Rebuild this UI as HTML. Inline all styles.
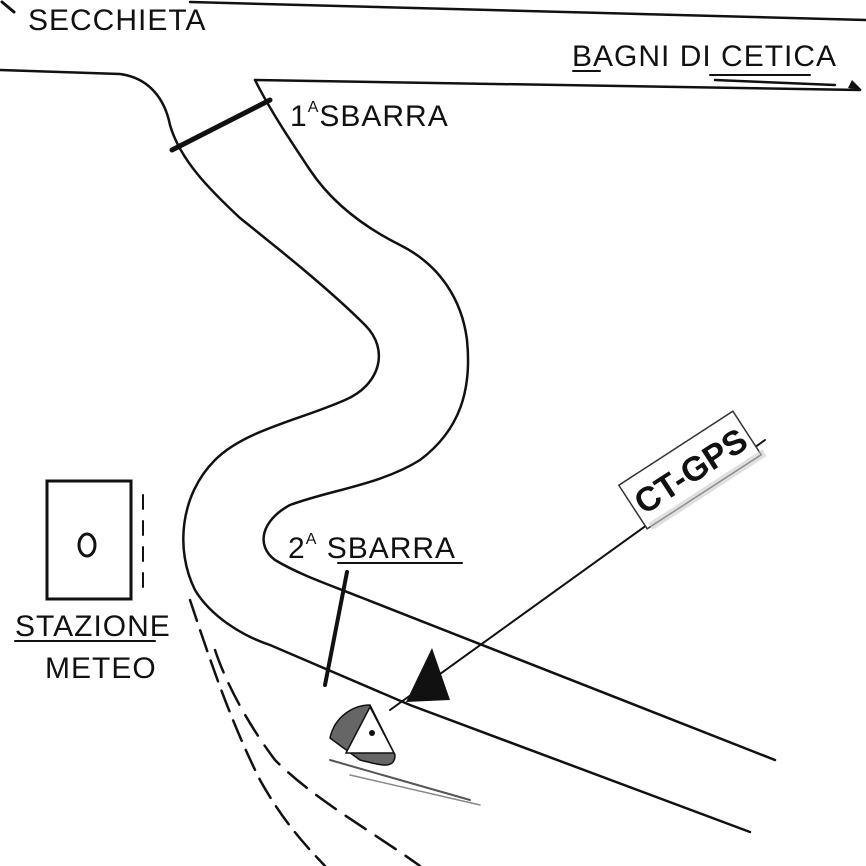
<!DOCTYPE html>
<html><head><meta charset="utf-8"><style>
html,body{margin:0;padding:0;background:#fff;width:866px;height:866px;overflow:hidden}
svg{display:block}
.h{font-family:"Liberation Sans",sans-serif;fill:#111;font-size:30px;letter-spacing:1px}
</style></head><body>
<svg width="866" height="866" viewBox="0 0 866 866" xmlns="http://www.w3.org/2000/svg">
<rect width="866" height="866" fill="#fff"/>
<g fill="none" stroke="#111" stroke-width="2.5" stroke-linecap="round">
<path d="M190 2 L866 20"/>
<path d="M2 2 L14 12" stroke-width="3"/>
<path d="M0 70 L120 74 C150 78 165 100 170 125 C180 160 210 190 240 218 C280 250 330 290 365 325 C390 350 380 385 345 400 C300 420 245 430 215 460 C180 495 175 550 195 590 C210 615 240 635 270 645 L410 705 L750 832"/>
<path d="M255 80 L860 90"/>
<path d="M255 80 C270 110 290 140 310 170 C330 200 360 225 400 245 C440 265 462 300 467 340 C472 390 460 430 420 460 C380 485 330 490 290 505 C262 520 255 545 275 560 C300 575 330 585 360 597 L775 760"/>
<path d="M715 80 L835 85"/>
<path d="M172 150 L270 100" stroke-width="5"/>
<path d="M347 572 L325 685" stroke-width="4"/>
<path d="M190 600 C210 660 230 720 260 780 C285 825 310 850 325 866" stroke-dasharray="22 10"/>
<path d="M215 650 C225 680 245 720 275 760 C315 800 370 830 420 866" stroke-dasharray="24 12"/>
<path d="M143 495 L143 590" stroke-dasharray="14 12" stroke-width="2"/>
<path d="M330 760 L470 800" stroke-width="2" stroke="#555"/>
<path d="M350 775 L480 805" stroke-width="1.5" stroke="#888"/>
<path d="M390 710 L765 440" stroke-width="2"/>
<rect x="47" y="481" width="84" height="118" stroke-width="3"/>
<ellipse cx="87" cy="545" rx="8" ry="11" stroke-width="3"/>
<path d="M15 641 L155 641" stroke-width="2"/>
<path d="M338 563 L462 563" stroke-width="2"/>
<path d="M573 71 L600 71 M710 75 L810 75" stroke-width="2"/>
</g>
<polygon points="432,648 450,700 406,702" fill="#111"/>
<path d="M330 738 C335 715 355 705 370 705 L395 755 C395 770 380 765 360 760 Z" fill="#666" stroke="#111" stroke-width="1.5"/>
<polygon points="370,707 394,753 346,753" fill="#fff" stroke="#111" stroke-width="1.5"/>
<circle cx="372" cy="733" r="3" fill="#111"/>
<polygon points="852,80 862,90 848,88" fill="#111"/>
<g transform="translate(690,470) rotate(-33)">
<rect x="-68" y="-26" width="136" height="52" fill="#fff" stroke="#333" stroke-width="1.5"/>
<rect x="-64" y="22" width="136" height="8" fill="#ccc" opacity="0.6"/>
<text x="0" y="13" text-anchor="middle" font-family="Liberation Sans,sans-serif" font-weight="bold" font-size="34" fill="#111">CT-GPS</text>
</g>
<text class="h" x="28" y="30" font-size="30">SECCHIETA</text>
<text class="h" x="572" y="66" font-size="27">BAGNI DI CETICA</text>
<text class="h" x="290" y="126" font-size="32">1<tspan font-size="16" dy="-14">A</tspan><tspan dy="14">SBARRA</tspan></text>
<text class="h" x="288" y="558" font-size="32">2<tspan font-size="16" dy="-14">A</tspan><tspan dy="14"> SBARRA</tspan></text>
<text class="h" x="15" y="636" font-size="28">STAZIONE</text>
<text class="h" x="45" y="678" font-size="28">METEO</text>
</svg>
</body></html>
